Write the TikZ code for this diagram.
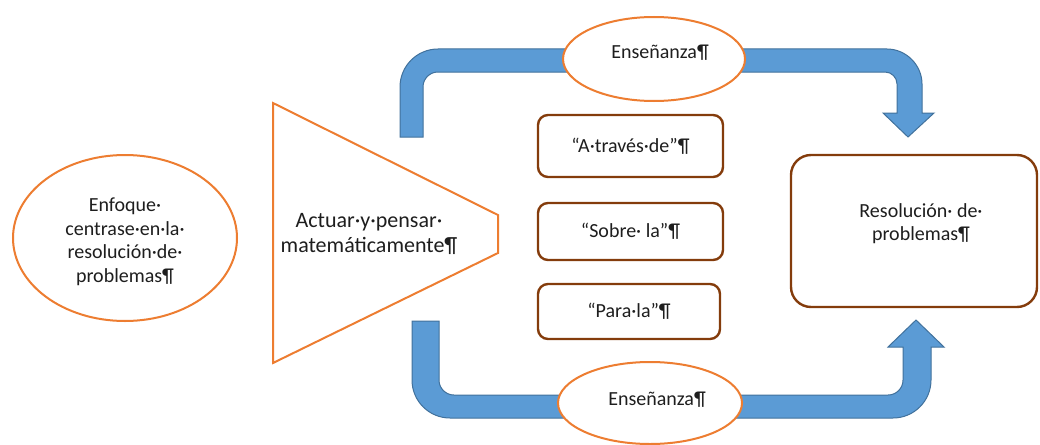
\documentclass[tikz,border=0pt]{standalone}
\usepackage{fontspec}
\setmainfont{Carlito}
\usetikzlibrary{shapes.geometric}
\definecolor{orng}{HTML}{ED7D31}
\definecolor{brwn}{HTML}{843C0C}
\definecolor{bfill}{HTML}{5B9BD5}
\definecolor{bline}{HTML}{41719C}
\definecolor{ink}{HTML}{1E1E1E}
\begin{document}
\begin{tikzpicture}[x=1pt,y=-1pt,
  txt/.style={font=\fontsize{20}{23.5}\selectfont, text=ink, align=center, inner sep=0pt},
  bigtxt/.style={font=\fontsize{22}{25.5}\selectfont, text=ink, align=center, inner sep=0pt},
  oell/.style={ellipse, draw=orng, line width=2pt, fill=white, inner sep=0pt},
  bbox/.style={rectangle, rounded corners=10pt, draw=brwn, line width=2.4pt, fill=white,
     font=\fontsize{20}{23.5}\selectfont, text=ink, align=center},
  barrow/.style={fill=bfill, draw=bline, line width=1pt, line join=miter}
]
\useasboundingbox (0,0) rectangle (1040,444);

% blue block arrows
\draw[barrow] (400,137) -- (400,87) .. controls (400,66) and (417,49) .. (438,49)
  -- (887,49) .. controls (906,49) and (922,65) .. (922,84)
  -- (922,113) -- (934,113) -- (908,137) -- (883,113) -- (897,113)
  -- (897,84) .. controls (897,77.4) and (891.6,72) .. (885,72)
  -- (438,72) .. controls (429.7,72) and (423,78.7) .. (423,87)
  -- (423,137) -- cycle;
\draw[barrow] (412,321) -- (412,380) .. controls (412,401) and (429,418) .. (450,418)
  -- (893,418) .. controls (914,418) and (931,401) .. (931,380)
  -- (931,347) -- (944,347) -- (916,320) -- (888,347) -- (903,347)
  -- (903,380) .. controls (903,388.3) and (896.3,395) .. (888,395)
  -- (454,395) .. controls (445.7,395) and (439,388.3) .. (439,380)
  -- (439,321) -- cycle;

% left ellipse
\node[oell, minimum width=224pt, minimum height=166pt] (enf) at (125,238) {};
\node[txt] (enft) at (125,242) {Enfoque·\\centrase·en·la·\\resolución·de·\\problemas¶};

% trapezoid / triangle
\draw[orng, line width=2pt, line join=miter] (273,103) -- (498,215) -- (498,253) -- (273,363) -- cycle;
\node[bigtxt] (act) at (369,234) {Actuar·y·pensar·\\matemáticamente¶};

% top and bottom ellipses
\node[oell, minimum width=182pt, minimum height=84pt] (ens1) at (654,59) {};
\node[txt] (ens1t) at (660,53) {Enseñanza¶};
\node[oell, minimum width=184pt, minimum height=82pt] (ens2) at (650,403) {};
\node[txt] (ens2t) at (657,400) {Enseñanza¶};

% middle boxes
\node[bbox, minimum width=185pt, minimum height=62pt] (b1) at (630.5,146) {“A·través·de”¶};
\node[bbox, minimum width=185pt, minimum height=57pt] (b2) at (630.5,231.5) {“Sobre· la”¶};
\node[bbox, minimum width=182pt, minimum height=55pt] (b3) at (629,311.5) {“Para·la”¶};

% right box
\node[rectangle, rounded corners=20pt, draw=brwn, line width=2.4pt, fill=white,
  minimum width=246pt, minimum height=152pt] (res) at (914,231) {};
\node[txt] (rest) at (921,223.5) {Resolución· de·\\problemas¶};
\end{tikzpicture}
\end{document}
